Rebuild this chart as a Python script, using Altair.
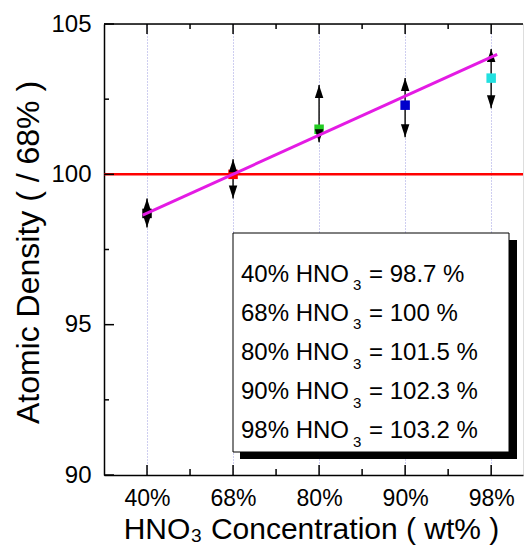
import altair as alt
import pandas as pd

# ---------------- data ----------------
categories = ["40%", "68%", "80%", "90%", "98%"]
cat_index = [1, 2, 3, 4, 5]
density = [98.7, 100.0, 101.5, 102.3, 103.2]
err_high = [99.2, 100.5, 102.97, 103.2, 104.17]
err_low = [98.23, 99.2, 101.07, 101.23, 102.2]
marker_colors = ["#000000", "#ff0000", "#22cc22", "#0000cc", "#22e0e0"]

fit_x = [0.95, 5.07]
fit_y = [98.64, 103.99]

reference_level = [100.0]

y_major = [90, 95, 100, 105]
y_minor = [92.5, 97.5, 102.5]
x_major = [1, 2, 3, 4, 5]
x_minor = [1.5, 2.5, 3.5, 4.5]

legend_conc = ["40%", "68%", "80%", "90%", "98%"]
legend_vals = ["98.7", "100", "101.5", "102.3", "103.2"]

# ---------------- layout ----------------
W, H = 419, 451
FONT = "Liberation Sans"

pts = pd.DataFrame({"idx": cat_index, "cat": categories, "val": density,
                    "hi": err_high, "lo": err_low, "col": marker_colors})
fit = pd.DataFrame({"idx": fit_x, "val": fit_y})
ref = pd.DataFrame({"val": reference_level})
ymaj = pd.DataFrame({"val": y_major})
ymin = pd.DataFrame({"val": y_minor})
xmaj = pd.DataFrame({"idx": x_major})
xmin = pd.DataFrame({"idx": x_minor})
leg = pd.DataFrame({"i": list(range(len(legend_conc))),
                    "p1": [c + " HNO" for c in legend_conc],
                    "p2": ["3"] * len(legend_conc),
                    "p3": ["= " + v + " %" for v in legend_vals]})
one = pd.DataFrame({"a": [0]})

xs = alt.Scale(domain=[0.5, 5.37], nice=False, zero=False)
ys = alt.Scale(domain=[90, 105], nice=False, zero=False)

label_expr = "[" + ",".join("'" + c + "'" for c in categories) + "][datum.value - 1]"

x_axis = alt.Axis(values=x_major, labelExpr=label_expr, ticks=False, grid=True,
                  gridDash=[1, 2], gridColor="#9c9ce0", gridWidth=1,
                  domainColor="black", domainWidth=1.5,
                  labelFontSize=23, labelPadding=12, labelColor="black",
                  labelFont=FONT,
                  title="HNO\u2083 Concentration ( wt% )", titleFontSize=30,
                  titleFont=FONT, titleFontWeight="normal", titleColor="black",
                  titleBaseline="alphabetic", titleY=63, titleX=207)
y_axis = alt.Axis(values=y_major, ticks=False, grid=False,
                  domainColor="black", domainWidth=1.5,
                  labelFontSize=24, labelPadding=13, labelColor="black",
                  labelFont=FONT,
                  title="Atomic Density ( / 68% )", titleFontSize=32,
                  titleFont=FONT, titleFontWeight="normal", titleColor="black",
                  titleAngle=270, titleBaseline="alphabetic", titleX=-66, titleY=228)


def X(field):
    return alt.X(field + ":Q", scale=xs, axis=x_axis)


def Y(field):
    return alt.Y(field + ":Q", scale=ys, axis=y_axis)


base = alt.Chart(pts)

red_line = alt.Chart(ref).mark_rule(color="#ff0000", strokeWidth=2.5).encode(y=Y("val"))

shafts = base.mark_rule(color="#222222", strokeWidth=1.6).encode(
    x=X("idx"), y=Y("lo"), y2="hi:Q")
up_heads = base.mark_point(shape="M0,0L0.65,2L-0.65,2Z", filled=True, size=169,
                           color="black", opacity=1, strokeWidth=0).encode(
    x=X("idx"), y=Y("hi"))
down_heads = base.mark_point(shape="M0,0L0.65,-2L-0.65,-2Z", filled=True, size=169,
                             color="black", opacity=1, strokeWidth=0).encode(
    x=X("idx"), y=Y("lo"))
squares = base.mark_square(size=90, opacity=1).encode(
    x=X("idx"), y=Y("val"), color=alt.Color("col:N", scale=None))

fit_line = alt.Chart(fit).mark_line(color="#e41be4", strokeWidth=3).encode(
    x=X("idx"), y=Y("val"))

# inward ticks
y_ticks_major = alt.Chart(ymaj).mark_rule(color="black", strokeWidth=1.5).encode(
    y=Y("val"), x=alt.value(0), x2=alt.value(10))
y_ticks_minor = alt.Chart(ymin).mark_rule(color="black", strokeWidth=1.5).encode(
    y=Y("val"), x=alt.value(0), x2=alt.value(5))
xb_major = alt.Chart(xmaj).mark_rule(color="black", strokeWidth=1.5).encode(
    x=X("idx"), y=alt.value(H), y2=alt.value(H - 10))
xb_minor = alt.Chart(xmin).mark_rule(color="black", strokeWidth=1.5).encode(
    x=X("idx"), y=alt.value(H), y2=alt.value(H - 6))
xt_major = alt.Chart(xmaj).mark_rule(color="black", strokeWidth=1.5).encode(
    x=X("idx"), y=alt.value(0), y2=alt.value(10))
xt_minor = alt.Chart(xmin).mark_rule(color="black", strokeWidth=1.5).encode(
    x=X("idx"), y=alt.value(0), y2=alt.value(5))
top_border = alt.Chart(one).mark_rule(color="black", strokeWidth=1.5).encode(
    y=alt.value(0), x=alt.value(0), x2=alt.value(W))

# legend box
shadow = alt.Chart(one).mark_rect(color="black").encode(
    x=alt.value(136), x2=alt.value(413), y=alt.value(216), y2=alt.value(435))
box = alt.Chart(one).mark_rect(fill="white", stroke="black", strokeWidth=1).encode(
    x=alt.value(129), x2=alt.value(405), y=alt.value(209), y2=alt.value(428))

legbase = alt.Chart(leg).transform_calculate(by="257.7 + 39.15 * datum.i")
t1 = legbase.mark_text(align="left", baseline="alphabetic", font=FONT,
                       fontSize=24, color="black").encode(
    x=alt.value(137), y=alt.Y("by:Q", scale=None), text="p1:N")
t2 = legbase.mark_text(align="left", baseline="alphabetic", font=FONT,
                       fontSize=15, color="black", dy=8.5).encode(
    x=alt.value(249), y=alt.Y("by:Q", scale=None), text="p2:N")
t3 = legbase.mark_text(align="left", baseline="alphabetic", font=FONT,
                       fontSize=24, color="black").encode(
    x=alt.value(265), y=alt.Y("by:Q", scale=None), text="p3:N")

chart = alt.layer(
    red_line, shafts, squares, up_heads, down_heads, fit_line,
    y_ticks_major, y_ticks_minor, xb_major, xb_minor, xt_major, xt_minor, top_border,
    shadow, box, t1, t2, t3,
).properties(
    width=W, height=H,
    padding={"left": 104, "top": 24, "right": 1, "bottom": 74},
    autosize=alt.AutoSizeParams(type="none"),
    background="white",
).configure_view(stroke=None).configure(font=FONT)

chart.save("out.html", embed_options={"renderer": "svg", "actions": False})
